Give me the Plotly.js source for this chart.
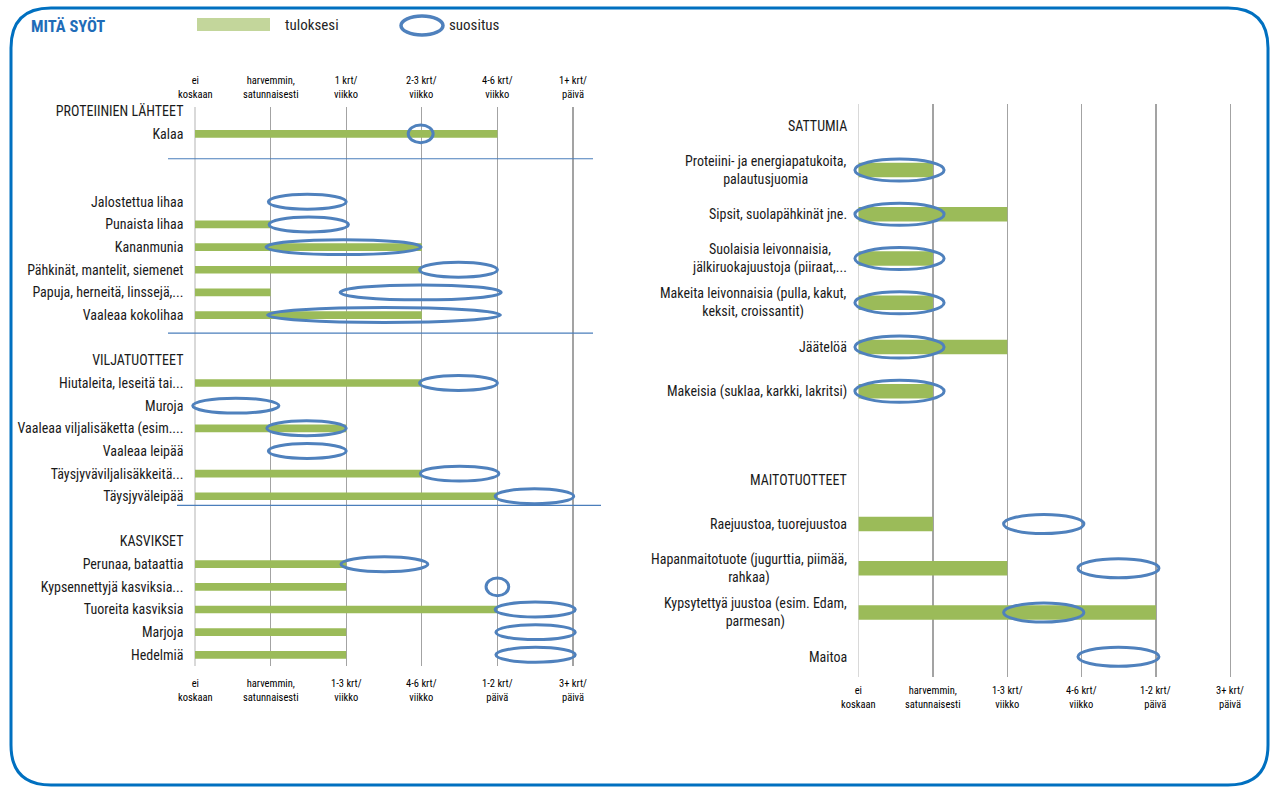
<!DOCTYPE html>
<html>
<head>
<meta charset="utf-8">
<script src="https://cdn.plot.ly/plotly-3.0.1.min.js"></script>
<style>
  html, body { margin: 0; padding: 0; background: #ffffff; }
  #chart { width: 1281px; height: 796px; }
</style>
</head>
<body>
<div id="chart"></div>
<script>
// ---------------- DATA ----------------
const leftCategories = [
  'PROTEIINIEN LÄHTEET', 'Kalaa', '', '',
  'Jalostettua lihaa', 'Punaista lihaa', 'Kananmunia', 'Pähkinät, mantelit, siemenet',
  'Papuja, herneitä, linssejä,...', 'Vaaleaa kokolihaa', '',
  'VILJATUOTTEET', 'Hiutaleita, leseitä tai...', 'Muroja', 'Vaaleaa viljalisäketta (esim....',
  'Vaaleaa leipää', 'Täysjyväviljalisäkkeitä...', 'Täysjyväleipää', '',
  'KASVIKSET', 'Perunaa, bataattia', 'Kypsennettyjä kasviksia...', 'Tuoreita kasviksia',
  'Marjoja', 'Hedelmiä'
];
// "tuloksesi" (your result), 0 = ei koskaan ... 5
const leftResults = [null, 4, null, null, null, 1, 3, 3, 1, 3, null, null, 3, null, 2, null, 3, 4, null, null, 2, 2, 4, 2, 2];
// "suositus" (recommendation) range
const leftRecFrom = [null, 2.82, null, null, 0.97, 0.98, 0.94, 2.97, 1.92, 0.96, null, null, 2.97, -0.03, 0.95, 0.97, 2.98, 3.97, null, null, 1.93, 3.85, 3.97, 3.98, 3.98];
const leftRecTo   = [null, 3.15, null, null, 2.00, 2.03, 2.99, 4.00, 4.05, 4.04, null, null, 4.00, 1.11, 2.00, 2.00, 4.02, 5.01, null, null, 3.08, 4.15, 5.03, 5.03, 5.03];

const rightCategories = [
  'SATTUMIA',
  'Proteiini- ja energiapatukoita,<br>palautusjuomia',
  'Sipsit, suolapähkinät jne.',
  'Suolaisia leivonnaisia,<br>jälkiruokajuustoja (piiraat,...',
  'Makeita leivonnaisia (pulla, kakut,<br>keksit, croissantit)',
  'Jäätelöä',
  'Makeisia (suklaa, karkki, lakritsi)',
  '',
  'MAITOTUOTTEET',
  'Raejuustoa, tuorejuustoa',
  'Hapanmaitotuote (jugurttia, piimää,<br>rahkaa)',
  'Kypsytettyä juustoa (esim. Edam,<br>parmesan)',
  'Maitoa'
];
const rightResults = [null, 1, 2, 1, 1, 2, 1, null, null, 1, 2, 4, null];
const rightRecFrom = [null, -0.05, -0.05, -0.05, -0.05, -0.05, -0.05, null, null, 1.95, 2.95, 1.95, 2.95];
const rightRecTo   = [null, 1.15, 1.15, 1.15, 1.15, 1.15, 1.15, null, null, 3.03, 4.04, 3.03, 4.04];

const frequencyTicks = [0, 1, 2, 3, 4, 5];
const topTickLabels = ['ei<br>koskaan', 'harvemmin,<br>satunnaisesti', '1 krt/<br>viikko', '2-3 krt/<br>viikko', '4-6 krt/<br>viikko', '1+ krt/<br>päivä'];
const bottomTickLabels = ['ei<br>koskaan', 'harvemmin,<br>satunnaisesti', '1-3 krt/<br>viikko', '4-6 krt/<br>viikko', '1-2 krt/<br>päivä', '3+ krt/<br>päivä'];

const titleText = 'MITÄ SYÖT';
const legendResult = 'tuloksesi';
const legendRec = 'suositus';

// ---------------- STYLE / LAYOUT ----------------
const W = 1281, H = 796;
const px = v => v / W;
const py = v => 1 - v / H;
const FONT = '"Liberation Sans Narrow", "Arial Narrow", "Roboto Condensed", "Liberation Sans", sans-serif';
const GREEN = '#9bbb59';
const BLUE = '#4f81bd';
const GRID = '#a3a3a3';
const LABEL_SIZE = 14;

const idx = arr => arr.map((_, i) => i);

const traces = [
  {
    type: 'bar', orientation: 'h', xaxis: 'x', yaxis: 'y',
    y: idx(leftCategories), x: leftResults, base: 0, width: 0.34,
    marker: { color: GREEN, line: { width: 0 } }, hoverinfo: 'skip'
  },
  {
    type: 'bar', orientation: 'h', xaxis: 'x2', yaxis: 'y2',
    y: idx(rightCategories), x: rightResults, base: 0, width: 0.33,
    marker: { color: GREEN, line: { width: 0 } }, hoverinfo: 'skip'
  }
];

const shapes = [];
const annotations = [];

// recommendation ellipses
leftCategories.forEach((c, i) => {
  if (leftRecFrom[i] === null) return;
  const h = (leftRecTo[i] - leftRecFrom[i]) < 0.5 ? 0.39 : 0.33;
  shapes.push({ type: 'circle', xref: 'x', yref: 'y', x0: leftRecFrom[i], x1: leftRecTo[i],
    y0: i - h, y1: i + h, line: { color: BLUE, width: 3 }, fillcolor: 'rgba(0,0,0,0)', layer: 'above' });
});
rightCategories.forEach((c, i) => {
  if (rightRecFrom[i] === null) return;
  const h = rightRecFrom[i] < 0 ? 0.25 : 0.215;
  shapes.push({ type: 'circle', xref: 'x2', yref: 'y2', x0: rightRecFrom[i], x1: rightRecTo[i],
    y0: i - h, y1: i + h, line: { color: BLUE, width: 3 }, fillcolor: 'rgba(0,0,0,0)', layer: 'above' });
});

// group separators (left panel)
[[2.1, 168, 593], [9.8, 168, 593], [17.4, 177, 601]].forEach(s => {
  shapes.push({ type: 'line', xref: 'paper', yref: 'y', x0: px(s[1]), x1: px(s[2]), y0: s[0], y1: s[0],
    line: { color: '#4a7ebb', width: 1.2 } });
});

// frame
const fx0 = 11, fx1 = 1268, fy0 = 8, fy1 = 785, r = 40;
shapes.push({
  type: 'path', xref: 'paper', yref: 'paper',
  path: `M ${px(fx0)},${py(fy0 + r)} Q ${px(fx0)},${py(fy0)} ${px(fx0 + r)},${py(fy0)} ` +
        `L ${px(fx1 - r)},${py(fy0)} Q ${px(fx1)},${py(fy0)} ${px(fx1)},${py(fy0 + r)} ` +
        `L ${px(fx1)},${py(fy1 - r)} Q ${px(fx1)},${py(fy1)} ${px(fx1 - r)},${py(fy1)} ` +
        `L ${px(fx0 + r)},${py(fy1)} Q ${px(fx0)},${py(fy1)} ${px(fx0)},${py(fy1 - r)} Z`,
  line: { color: '#0070c0', width: 3 }, fillcolor: 'rgba(0,0,0,0)'
});

// legend
shapes.push({ type: 'rect', xref: 'paper', yref: 'paper', x0: px(197), x1: px(270), y0: py(31), y1: py(18),
  fillcolor: '#c3d69b', line: { width: 0 } });
shapes.push({ type: 'circle', xref: 'paper', yref: 'paper', x0: px(401), x1: px(443), y0: py(35), y1: py(16),
  fillcolor: 'rgba(0,0,0,0)', line: { color: BLUE, width: 3.5 } });
annotations.push({ xref: 'paper', yref: 'paper', x: px(283), y: py(25.5), xanchor: 'left', yanchor: 'middle',
  text: legendResult, showarrow: false, font: { family: FONT, size: 15, color: '#262626' } });
annotations.push({ xref: 'paper', yref: 'paper', x: px(447), y: py(25.5), xanchor: 'left', yanchor: 'middle',
  text: legendRec, showarrow: false, font: { family: FONT, size: 15, color: '#262626' } });

// title
annotations.push({ xref: 'paper', yref: 'paper', x: px(29), y: py(27), xanchor: 'left', yanchor: 'middle',
  text: '<b>' + titleText + '</b>', showarrow: false, font: { family: FONT, size: 16.5, color: '#1f6cb8' } });

// x tick labels
frequencyTicks.forEach((t, i) => {
  annotations.push({ xref: 'x', yref: 'paper', x: t, y: py(87), xanchor: 'center', yanchor: 'middle',
    text: topTickLabels[i], showarrow: false, font: { family: FONT, size: 10.5, color: '#000' } });
  annotations.push({ xref: 'x', yref: 'paper', x: t, y: py(690.5), xanchor: 'center', yanchor: 'middle',
    text: bottomTickLabels[i], showarrow: false, font: { family: FONT, size: 10.5, color: '#000' } });
  annotations.push({ xref: 'x2', yref: 'paper', x: t, y: py(697), xanchor: 'center', yanchor: 'middle',
    text: bottomTickLabels[i], showarrow: false, font: { family: FONT, size: 10.5, color: '#000' } });
});

// right panel category labels (centered multi-line, right-anchored)
rightCategories.forEach((c, i) => {
  if (!c) return;
  annotations.push({ xref: 'paper', yref: 'y2', x: px(849), y: i, xanchor: 'right', yanchor: 'middle',
    align: 'center', text: c, showarrow: false, font: { family: FONT, size: LABEL_SIZE, color: '#1a1a1a' } });
});

// axis geometry (pixels)
const L = { x0val: 195, unit: 75.6, rmin: -0.1, rmax: 5.1, top: 106.7, bottom: 665.7, row0: 111.2, rowStep: 22.65 };
const R = { x0val: 858.6, unit: 74.35, rmin: -0.1, rmax: 5.1, top: 104, bottom: 677, row0: 125.8, rowStep: 44.25 };

function xDomain(g) { return [px(g.x0val + g.rmin * g.unit), px(g.x0val + g.rmax * g.unit)]; }
function yRange(g) { return [(g.bottom - g.row0) / g.rowStep, (g.top - g.row0) / g.rowStep]; }

const xBase = {
  tickvals: frequencyTicks, showticklabels: false, ticks: '',
  showgrid: true, gridcolor: GRID, gridwidth: 1.3,
  zeroline: true, zerolinecolor: '#d9d9d9', zerolinewidth: 1.6,
  showline: false, fixedrange: true
};

const layout = {
  width: W, height: H,
  margin: { l: 0, r: 0, t: 0, b: 0, pad: 0 },
  paper_bgcolor: '#ffffff', plot_bgcolor: 'rgba(0,0,0,0)',
  showlegend: false, barmode: 'overlay',
  font: { family: FONT, color: '#1a1a1a' },
  xaxis: Object.assign({}, xBase, { domain: xDomain(L), range: [L.rmin, L.rmax], anchor: 'y' }),
  yaxis: {
    domain: [py(L.bottom), py(L.top)], range: yRange(L), anchor: 'x',
    tickvals: idx(leftCategories), ticktext: leftCategories, ticks: '', ticklabelstandoff: 3,
    tickfont: { family: FONT, size: LABEL_SIZE, color: '#1a1a1a' },
    showgrid: false, zeroline: false, showline: false, fixedrange: true, automargin: false
  },
  xaxis2: Object.assign({}, xBase, { domain: xDomain(R), range: [R.rmin, R.rmax], anchor: 'y2' }),
  yaxis2: {
    domain: [py(R.bottom), py(R.top)], range: yRange(R), anchor: 'x2',
    showticklabels: false, ticks: '', showgrid: false, zeroline: false, showline: false, fixedrange: true
  },
  shapes: shapes,
  annotations: annotations
};

Plotly.newPlot('chart', traces, layout, { displayModeBar: false, staticPlot: true });
</script>
</body>
</html>
